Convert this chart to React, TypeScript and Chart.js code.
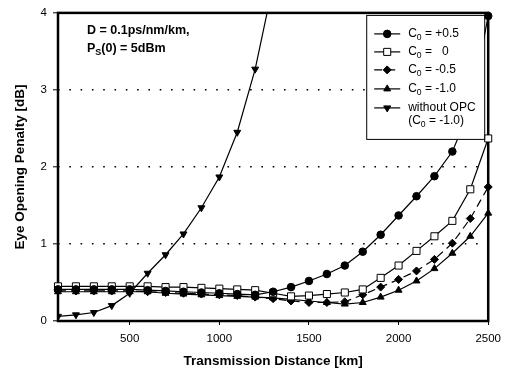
import React, { useEffect, useRef } from "react";
import { Chart, registerables } from "chart.js";

Chart.register(...registerables);

// ---------- data ----------
const distances = [
  100, 200, 300, 400, 500, 600, 700, 800, 900, 1000, 1100, 1200, 1300,
  1400, 1500, 1600, 1700, 1800, 1900, 2000, 2100, 2200, 2300, 2400, 2500,
];
const c0Plus05 = [
  0.41, 0.41, 0.41, 0.41, 0.41, 0.40, 0.39, 0.38, 0.37, 0.36, 0.35, 0.34, 0.38,
  0.44, 0.52, 0.61, 0.72, 0.90, 1.12, 1.37, 1.62, 1.88, 2.20, 2.75, 3.96,
];
const c0Zero = [
  0.45, 0.45, 0.45, 0.45, 0.45, 0.45, 0.44, 0.44, 0.43, 0.42, 0.41, 0.40, 0.36,
  0.32, 0.33, 0.35, 0.37, 0.41, 0.56, 0.72, 0.91, 1.10, 1.30, 1.71, 2.37,
];
const c0Minus05 = [
  0.39, 0.39, 0.39, 0.39, 0.39, 0.38, 0.37, 0.36, 0.35, 0.34, 0.33, 0.31, 0.29,
  0.26, 0.24, 0.24, 0.25, 0.34, 0.44, 0.54, 0.65, 0.80, 1.01, 1.33, 1.74,
];
const c0Minus10 = [
  0.38, 0.38, 0.38, 0.38, 0.38, 0.38, 0.36, 0.35, 0.34, 0.33, 0.32, 0.31, 0.30,
  0.28, 0.26, 0.24, 0.22, 0.24, 0.31, 0.40, 0.52, 0.68, 0.88, 1.10, 1.40,
];
const withoutOpc = [
  0.06, 0.08, 0.11, 0.20, 0.36, 0.62, 0.86, 1.13, 1.47, 1.87, 2.45, 3.27, 4.37,
];
const seriesLabels = ["C₀ = +0.5", "C₀ =   0", "C₀ = -0.5", "C₀ = -1.0", "without OPC (C₀ = -1.0)"];
const xTickValues = [500, 1000, 1500, 2000, 2500];
const yTickValues = [0, 1, 2, 3, 4];
const xTitle = "Transmission Distance [km]";
const yTitle = "Eye Opening Penalty [dB]";

type Part = [string, boolean];
const legendText: Part[][][] = [
  [[["C", false], ["0", true], [" = +0.5", false]]],
  [[["C", false], ["0", true], [" =   0", false]]],
  [[["C", false], ["0", true], [" = -0.5", false]]],
  [[["C", false], ["0", true], [" = -1.0", false]]],
  [
    [["without OPC", false]],
    [["(C", false], ["0", true], [" = -1.0)", false]],
  ],
];
const noteText: Part[][] = [
  [["D = 0.1ps/nm/km,", false]],
  [["P", false], ["S", true], ["(0) = 5dBm", false]],
];

const FONT = "'Liberation Sans', Arial, Helvetica, sans-serif";

function drawParts(ctx: CanvasRenderingContext2D, x: number, y: number, parts: Part[], size: number, weight: string) {
  let cx = x;
  for (const [t, sub] of parts) {
    const s = sub ? size * 0.72 : size;
    ctx.font = `${weight} ${s}px ${FONT}`;
    ctx.fillText(t, cx, sub ? y + size * 0.32 : y);
    cx += ctx.measureText(t).width;
  }
}

function drawMarker(ctx: CanvasRenderingContext2D, style: string, x: number, y: number, r: number, fill: string, rot: number) {
  ctx.beginPath();
  if (style === "circle") {
    ctx.arc(x, y, r, 0, Math.PI * 2);
  } else if (style === "rect") {
    const s = r * Math.SQRT1_2;
    ctx.rect(x - s, y - s, 2 * s, 2 * s);
  } else if (style === "rectRot") {
    ctx.moveTo(x, y - r);
    ctx.lineTo(x + r, y);
    ctx.lineTo(x, y + r);
    ctx.lineTo(x - r, y);
    ctx.closePath();
  } else if (style === "triangle") {
    let a = (rot * Math.PI) / 180;
    ctx.moveTo(x + Math.sin(a) * r, y - Math.cos(a) * r);
    a += (2 * Math.PI) / 3;
    ctx.lineTo(x + Math.sin(a) * r, y - Math.cos(a) * r);
    a += (2 * Math.PI) / 3;
    ctx.lineTo(x + Math.sin(a) * r, y - Math.cos(a) * r);
    ctx.closePath();
  }
  ctx.fillStyle = fill;
  ctx.fill();
  ctx.lineWidth = 1;
  ctx.strokeStyle = "#000";
  ctx.stroke();
}

const framePlugin = {
  id: "frame",
  beforeDatasetsDraw(chart: any) {
    const { ctx, chartArea: a } = chart;
    ctx.save();
    ctx.strokeStyle = "#000";
    ctx.lineWidth = 2.5;
    ctx.strokeRect(a.left, a.top, a.right - a.left, a.bottom - a.top);
    ctx.restore();
  },
};

const annotationPlugin = {
  id: "annotations",
  afterDatasetsDraw(chart: any) {
    const { ctx, chartArea: a } = chart;
    ctx.save();
    ctx.fillStyle = "#000";
    ctx.textBaseline = "middle";
    ctx.textAlign = "left";
    // notes
    noteText.forEach((line, i) => {
      drawParts(ctx, a.left + 29, a.top + 18 + i * 18, line, 12.5, "bold");
    });
    // legend box
    const w = 118, h = 124;
    const left = a.right - 122, top = a.top + 2;
    ctx.fillStyle = "#fff";
    ctx.fillRect(left, top, w, h);
    ctx.strokeStyle = "#000";
    ctx.lineWidth = 1;
    ctx.strokeRect(left + 0.5, top + 0.5, w, h);
    const rows = [19, 37, 55, 74, 93];
    chart.data.datasets.forEach((ds: any, i: number) => {
      const y = top + rows[i];
      ctx.beginPath();
      ctx.setLineDash(ds.borderDash || []);
      ctx.lineWidth = 1.2;
      ctx.strokeStyle = "#000";
      ctx.moveTo(left + 8, y);
      ctx.lineTo(left + 34, y);
      ctx.stroke();
      ctx.setLineDash([]);
      drawMarker(ctx, ds.pointStyle, left + 21, y, ds.pointRadius, ds.pointBackgroundColor, ds.pointRotation || 0);
      ctx.fillStyle = "#000";
      legendText[i].forEach((line, j) => {
        drawParts(ctx, left + 42, y + j * 13, line, 12, "normal");
      });
    });
    // axis titles
    ctx.fillStyle = "#000";
    ctx.font = `bold 13.5px ${FONT}`;
    ctx.textAlign = "center";
    ctx.fillText(xTitle, (a.left + a.right) / 2, 361);
    ctx.translate(20, (a.top + a.bottom) / 2);
    ctx.rotate(-Math.PI / 2);
    ctx.fillText(yTitle, 0, 0);
    ctx.restore();
  },
};

export default function App() {
  const ref = useRef<HTMLCanvasElement | null>(null);

  useEffect(() => {
    document.body.style.margin = "0";
    const canvas = ref.current;
    if (!canvas) return;
    const pts = (vals: number[]) => vals.map((v, i) => ({ x: distances[i], y: v }));
    const base = {
      borderColor: "#000",
      borderWidth: 1.2,
      pointBorderColor: "#000",
      pointBorderWidth: 1,
      tension: 0,
      fill: false,
    };
    const chart = new Chart(canvas, {
      type: "line",
      data: {
        datasets: [
          { ...base, label: seriesLabels[0], data: pts(c0Plus05), pointStyle: "circle", pointRadius: 3.8, pointBackgroundColor: "#000", clip: 6 },
          { ...base, label: seriesLabels[1], data: pts(c0Zero), pointStyle: "rect", pointRadius: 5, pointBackgroundColor: "#fff", clip: 6 },
          { ...base, label: seriesLabels[2], data: pts(c0Minus05), pointStyle: "rectRot", pointRadius: 4, pointBackgroundColor: "#000", borderDash: [8, 5], clip: 6 },
          { ...base, label: seriesLabels[3], data: pts(c0Minus10), pointStyle: "triangle", pointRadius: 4, pointBackgroundColor: "#000", clip: 6 },
          { ...base, label: seriesLabels[4], data: pts(withoutOpc), pointStyle: "triangle", pointRotation: 180, pointRadius: 4, pointBackgroundColor: "#000" },
        ] as any,
      },
      options: {
        responsive: false,
        animation: false,
        devicePixelRatio: 1,
        layout: { padding: { left: 0, top: 12, right: 18, bottom: 0 } },
        plugins: { legend: { display: false }, tooltip: { enabled: false } },
        scales: {
          x: {
            type: "linear",
            min: 100,
            max: 2500,
            afterBuildTicks: (s: any) => {
              s.ticks = xTickValues.map((v) => ({ value: v }));
            },
            afterFit: (s: any) => {
              s.height = 57;
            },
            ticks: {
              color: "#000",
              font: { family: FONT, size: 11.5 },
              padding: 7,
              maxRotation: 0,
              callback: (v: any) => String(v),
            },
            grid: { drawOnChartArea: false, drawTicks: true, tickLength: 4, tickColor: "#000", tickWidth: 1 },
            border: { display: false },
          },
          y: {
            type: "linear",
            min: 0,
            max: 4,
            afterBuildTicks: (s: any) => {
              s.ticks = yTickValues.map((v) => ({ value: v }));
            },
            afterFit: (s: any) => {
              s.width = 58;
            },
            ticks: { color: "#000", font: { family: FONT, size: 11.5 }, padding: 6, callback: (v: any) => String(v) },
            grid: {
              color: (c: any) => (c.tick && c.tick.value > 0 && c.tick.value < 4 ? "#000" : "rgba(0,0,0,0)"),
              lineWidth: 1.6,
              drawTicks: true,
              tickLength: 5,
              tickColor: "#000",
              tickWidth: 1,
            },
            border: { display: false, dash: [1.6, 9.7] },
          },
        },
      } as any,
      plugins: [framePlugin, annotationPlugin],
    });
    return () => chart.destroy();
  }, []);

  return (
    <div style={{ position: "absolute", left: 0, top: 0, width: 508, height: 378, background: "#fff" }}>
      <canvas ref={ref} width={508} height={378} style={{ display: "block" }} />
    </div>
  );
}
